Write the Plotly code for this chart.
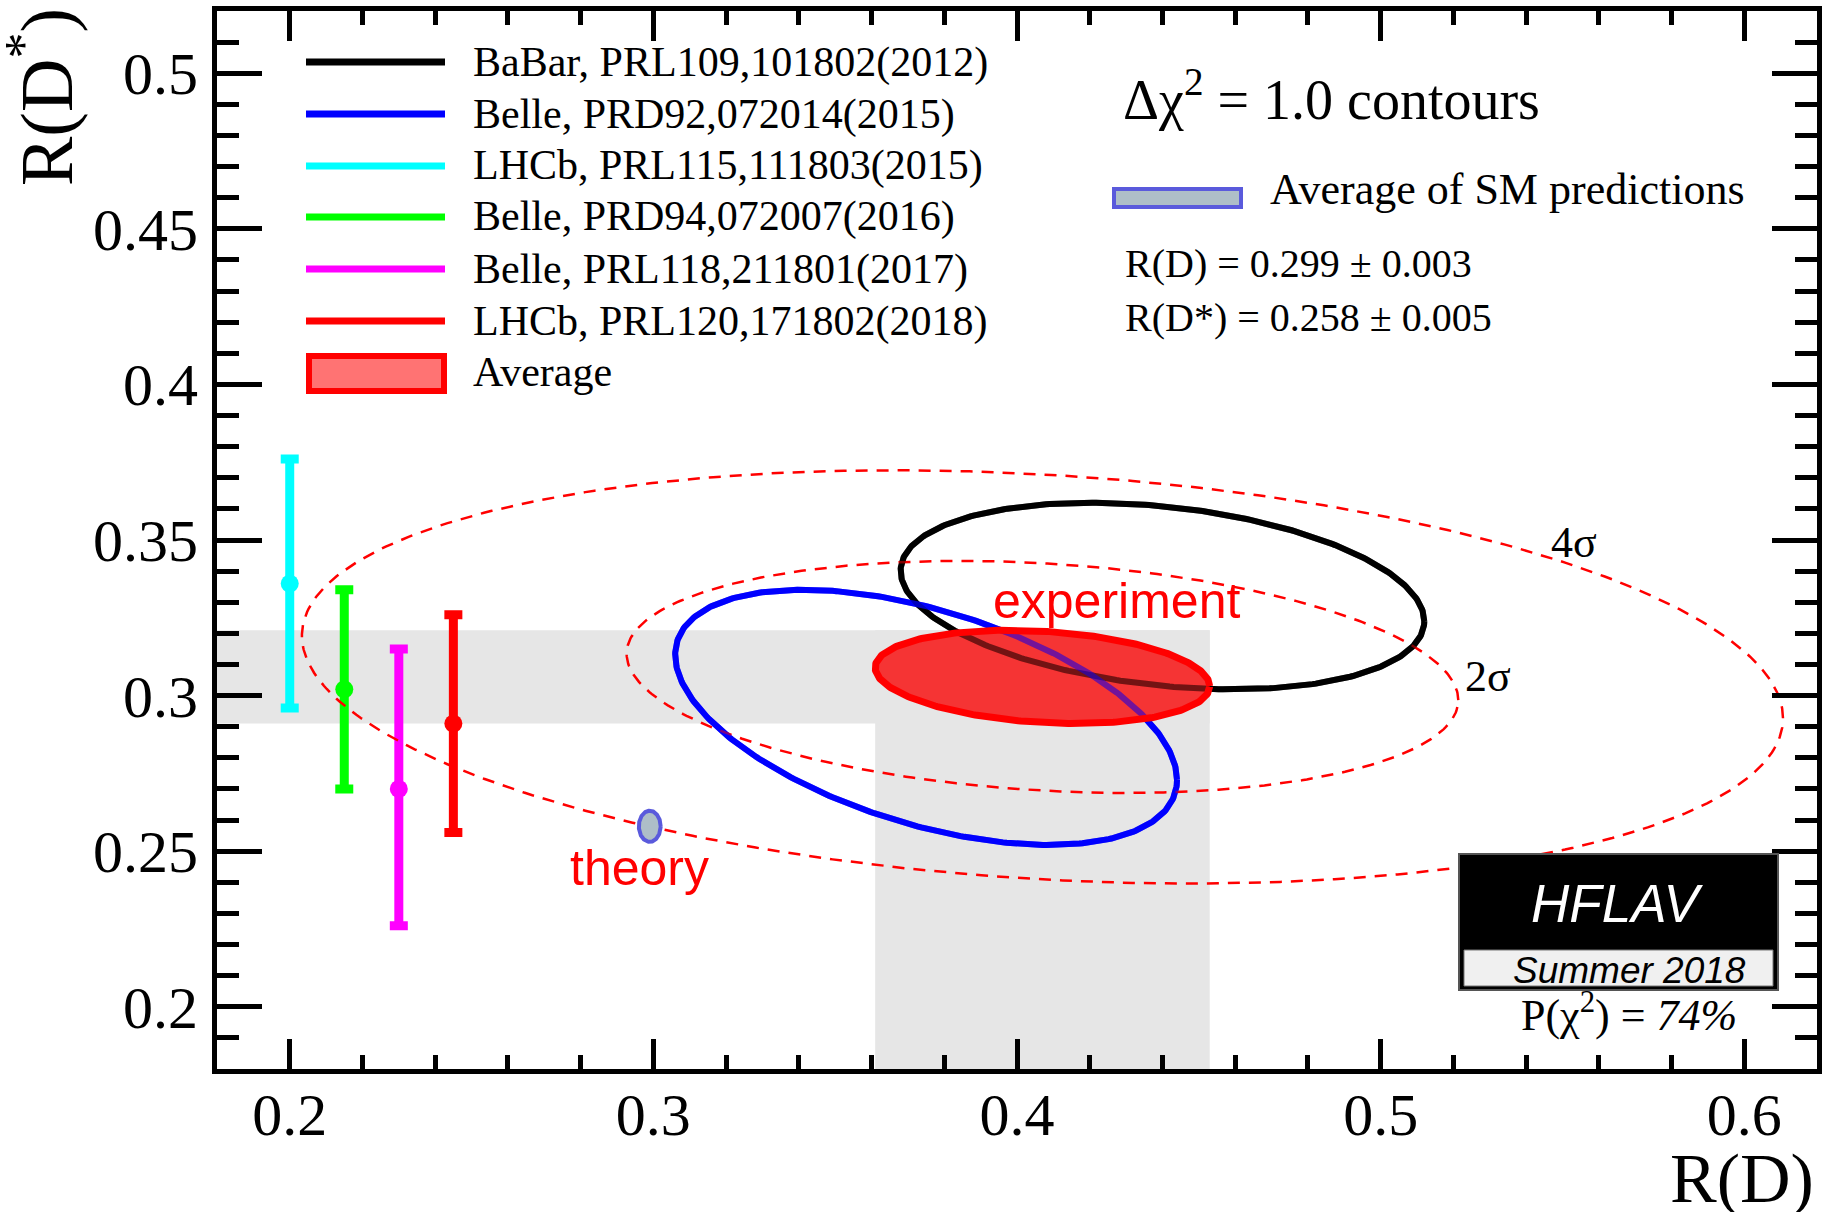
import numpy as np
import plotly.graph_objects as go

# ---------------- data ----------------
# 2D measurements (R(D), R(D*)) drawn as Delta chi2 = 1 ellipses
ell_labels = ["BaBar, PRL109,101802(2012)", "Belle, PRD92,072014(2015)"]
ell_colors = ["#000000", "#0000ff"]
ell_rd = [0.440, 0.375]
ell_rd_err = [0.072, 0.069]
ell_rds = [0.332, 0.293]
ell_rds_err = [0.030, 0.041]
ell_rho = [-0.27, -0.49]

# 1D R(D*) measurements drawn as error bars
bar_labels = ["LHCb, PRL115,111803(2015)", "Belle, PRD94,072007(2016)",
              "Belle, PRL118,211801(2017)", "LHCb, PRL120,171802(2018)"]
bar_colors = ["#00ffff", "#00ff00", "#ff00ff", "#ff0000"]
bar_x = [0.200, 0.215, 0.230, 0.245]
bar_rds = [0.336, 0.302, 0.270, 0.291]
bar_err_plus = [0.040, 0.032, 0.045, 0.035]
bar_err_minus = [0.040, 0.032, 0.044, 0.035]

# Experimental average
avg_rd, avg_rd_err = 0.407, 0.046
avg_rds, avg_rds_err = 0.306, 0.015
avg_rho = -0.20
sigma_labels = ["2σ", "4σ"]
sigma_dchi2 = [6.18, 19.6]

# SM prediction average
sm_rd, sm_rd_err = 0.299, 0.003
sm_rds, sm_rds_err = 0.258, 0.005
sm_rho = 0.0

x_range = [0.18, 0.62]
y_range = [0.18, 0.52]

# ---------------- helpers ----------------
W, H = 1831, 1212
L, R, T, B = 217, 1817, 11, 1069   # plot area in pixels


def px(xp):
    return (xp - L) / (R - L)


def py(yp):
    return (B - yp) / (B - T)


def ellipse(cx, sx, cy, sy, rho, dchi2=1.0, n=400):
    t = np.linspace(0, 2 * np.pi, n)
    k = np.sqrt(dchi2)
    x = cx + k * sx * np.cos(t)
    y = cy + k * sy * (rho * np.cos(t) + np.sqrt(1 - rho ** 2) * np.sin(t))
    return x, y


SERIF = "Liberation Serif"
SANS = "Liberation Sans"

fig = go.Figure()

# ---------------- error bars ----------------
for i in range(len(bar_x)):
    fig.add_trace(go.Scatter(
        x=[bar_x[i]], y=[bar_rds[i]], mode="markers",
        marker=dict(color=bar_colors[i], size=18, line=dict(width=0)),
        error_y=dict(type="data", symmetric=False, array=[bar_err_plus[i]],
                     arrayminus=[bar_err_minus[i]], color=bar_colors[i],
                     thickness=9, width=9),
        showlegend=False, hoverinfo="skip"))

# ---------------- 2D measurement ellipses ----------------
for i in range(len(ell_rd)):
    ex, ey = ellipse(ell_rd[i], ell_rd_err[i], ell_rds[i], ell_rds_err[i], ell_rho[i])
    fig.add_trace(go.Scatter(x=ex, y=ey, mode="lines",
                             line=dict(color=ell_colors[i], width=6),
                             showlegend=False, hoverinfo="skip"))

# ---------------- sigma contours ----------------
for lab, d in zip(sigma_labels, sigma_dchi2):
    ex, ey = ellipse(avg_rd, avg_rd_err, avg_rds, avg_rds_err, avg_rho, d)
    fig.add_trace(go.Scatter(x=ex, y=ey, mode="lines",
                             line=dict(color="#ff0000", width=2.5, dash="12px,9px"),
                             showlegend=False, hoverinfo="skip"))

# ---------------- average ellipse ----------------
ax_, ay_ = ellipse(avg_rd, avg_rd_err, avg_rds, avg_rds_err, avg_rho)
fig.add_trace(go.Scatter(x=ax_, y=ay_, mode="lines", fill="toself",
                         fillcolor="rgba(246,42,42,0.95)", line=dict(width=0),
                         showlegend=False, hoverinfo="skip"))
for i in range(len(ell_rd)):
    ex, ey = ellipse(ell_rd[i], ell_rd_err[i], ell_rds[i], ell_rds_err[i], ell_rho[i])
    fig.add_trace(go.Scatter(x=ex, y=ey, mode="lines", opacity=0.5,
                             line=dict(color=ell_colors[i], width=6),
                             showlegend=False, hoverinfo="skip"))
fig.add_trace(go.Scatter(x=ax_, y=ay_, mode="lines",
                         line=dict(color="#ff0000", width=7),
                         showlegend=False, hoverinfo="skip"))

# ---------------- SM ellipse ----------------
sx_, sy_ = ellipse(sm_rd, sm_rd_err, sm_rds, sm_rds_err, sm_rho)
fig.add_trace(go.Scatter(x=sx_, y=sy_, mode="lines", fill="toself",
                         fillcolor="#aebec8", line=dict(color="#5a5adc", width=4),
                         showlegend=False, hoverinfo="skip"))

# ---------------- bands ----------------
shapes = []
band_col = "#e6e6e6"
shapes.append(dict(type="rect", xref="x", yref="y", layer="below",
                   x0=x_range[0], x1=avg_rd + avg_rd_err,
                   y0=avg_rds - avg_rds_err, y1=avg_rds + avg_rds_err,
                   fillcolor=band_col, line=dict(width=0)))
shapes.append(dict(type="rect", xref="x", yref="y", layer="below",
                   x0=avg_rd - avg_rd_err, x1=avg_rd + avg_rd_err,
                   y0=y_range[0], y1=avg_rds + avg_rds_err,
                   fillcolor=band_col, line=dict(width=0)))

annotations = []


def text(xp, yp, s, size, family=SERIF, color="black", anchor="left"):
    annotations.append(dict(xref="paper", yref="paper", x=px(xp), y=py(yp),
                            xanchor=anchor, yanchor="middle", showarrow=False,
                            text=s, font=dict(family=family, size=size, color=color)))


# ---------------- legend (left) ----------------
leg_labels = [ell_labels[0], ell_labels[1]] + bar_labels
leg_colors = [ell_colors[0], ell_colors[1]] + bar_colors
leg_y = [62, 114, 166, 217, 269, 321]
for lab, col, yy in zip(leg_labels, leg_colors, leg_y):
    shapes.append(dict(type="line", xref="paper", yref="paper",
                       x0=px(306), x1=px(445), y0=py(yy), y1=py(yy),
                       line=dict(color=col, width=7)))
    text(471, yy, lab, 42)
shapes.append(dict(type="rect", xref="paper", yref="paper",
                   x0=px(309), x1=px(444), y0=py(391), y1=py(356),
                   fillcolor="#ff7373", line=dict(color="#ff0000", width=6)))
text(471, 372, "Average", 42)

# ---------------- right block ----------------
text(1121, 96, "Δχ<sup>2</sup> = 1.0 contours", 56)
shapes.append(dict(type="rect", xref="paper", yref="paper",
                   x0=px(1114), x1=px(1241), y0=py(207), y1=py(189),
                   fillcolor="#aebec8", line=dict(color="#5a5adc", width=4)))
text(1268, 189, "Average of SM predictions", 44)
text(1123, 263, "R(D) = %.3f ± %.3f" % (sm_rd, sm_rd_err), 40)
text(1123, 317, "R(D*) = %.3f ± %.3f" % (sm_rds, sm_rds_err), 40)

# ---------------- in-plot labels ----------------
text(1574, 542, sigma_labels[1], 44, anchor="center")
text(1488, 676, sigma_labels[0], 44, anchor="center")
text(1116, 601, "experiment", 50, family=SANS, color="#ff0000", anchor="center")
text(639, 868, "theory", 50, family=SANS, color="#ff0000", anchor="center")

# ---------------- HFLAV logo ----------------
shapes.append(dict(type="rect", xref="paper", yref="paper",
                   x0=px(1459), x1=px(1778), y0=py(990), y1=py(854),
                   fillcolor="black", line=dict(color="#555555", width=2)))
shapes.append(dict(type="rect", xref="paper", yref="paper",
                   x0=px(1464), x1=px(1773), y0=py(986), y1=py(950),
                   fillcolor="#f0f0f0", line=dict(color="#777777", width=1)))
text(1617, 903, "<i>HFLAV</i>", 53, family=SANS, color="white", anchor="center")
text(1629, 970, "<i>Summer 2018</i>", 37, family=SANS, anchor="center")
text(1629, 1012, "P(χ<sup>2</sup>) = <i>74%</i>", 44, anchor="center")

# ---------------- axis titles ----------------
annotations.append(dict(xref="paper", yref="paper", x=px(1816), y=py(1178),
                        xanchor="right", yanchor="middle", showarrow=False,
                        text="R(D)", font=dict(family=SERIF, size=70, color="black")))
annotations.append(dict(xref="paper", yref="paper", x=px(41), y=py(6),
                        xanchor="center", yanchor="top", showarrow=False, textangle=-90,
                        text="R(D<sup>*</sup>)", font=dict(family=SERIF, size=74, color="black")))

axis_common = dict(showgrid=False, zeroline=False, showline=True, linewidth=5,
                   linecolor="black", mirror="ticks", ticks="inside", tickwidth=5,
                   automargin=False,
                   tickcolor="black", tickfont=dict(family=SERIF, size=60, color="black"))

fig.update_layout(
    width=W, height=H,
    margin=dict(l=L, r=W - R, t=T, b=H - B),
    paper_bgcolor="white", plot_bgcolor="white",
    showlegend=False,
    xaxis=dict(range=x_range, tick0=0.2, dtick=0.1, ticklen=30,
               ticklabelstandoff=-11,
               minor=dict(tick0=0.2, dtick=0.02, ticklen=14, tickwidth=5,
                          tickcolor="black", ticks="inside", showgrid=False),
               **axis_common),
    yaxis=dict(range=y_range, tick0=0.2, dtick=0.05, ticklen=45,
               ticklabelstandoff=2,
               minor=dict(tick0=0.2, dtick=0.01, ticklen=22, tickwidth=5,
                          tickcolor="black", ticks="inside", showgrid=False),
               **axis_common),
    shapes=shapes, annotations=annotations,
)

fig.write_html("out.html", config={"displayModeBar": False})
